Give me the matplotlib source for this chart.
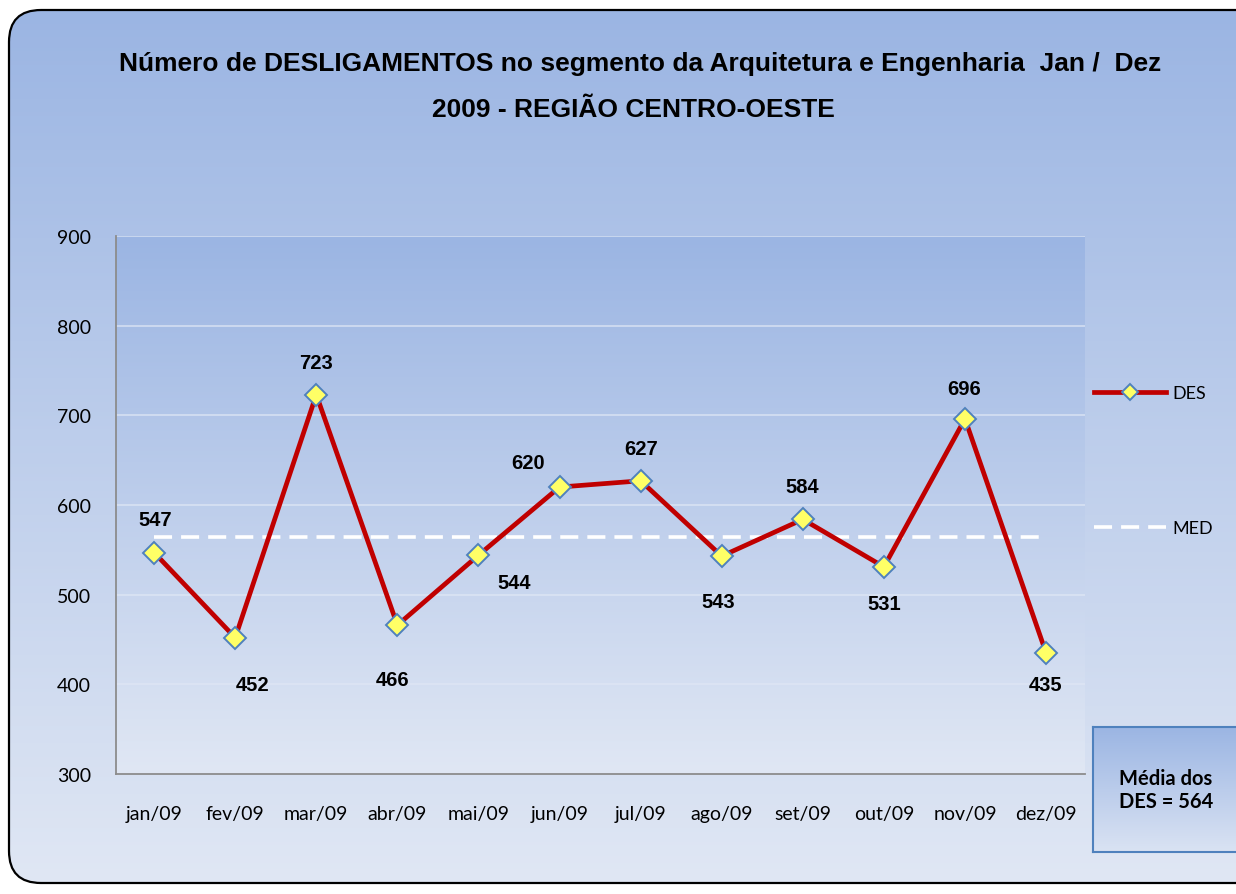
import numpy as np
import matplotlib
matplotlib.use('Agg')
import matplotlib.pyplot as plt
from matplotlib.patches import FancyBboxPatch

# dados
meses = ['jan/09', 'fev/09', 'mar/09', 'abr/09', 'mai/09', 'jun/09',
         'jul/09', 'ago/09', 'set/09', 'out/09', 'nov/09', 'dez/09']
des = [547, 452, 723, 466, 544, 620, 627, 543, 584, 531, 696, 435]
media = 564
med = [media] * len(meses)

W, H = 1236, 895
fig = plt.figure(figsize=(W / 100, H / 100), dpi=100)

top_c = np.array([0x9b, 0xb5, 0xe3]) / 255
bot_c = np.array([0xe0, 0xe7, 0xf4]) / 255
grad = np.linspace(0, 1, 256)[:, None, None]
grad_img = top_c * (1 - grad) + bot_c * grad

# fundo com cantos arredondados
bg = fig.add_axes([0, 0, 1, 1], zorder=-10)
bg.set_xlim(0, W)
bg.set_ylim(H, 0)
bg.axis('off')
box = FancyBboxPatch((9, 11), 1280, 873, boxstyle='round,pad=0,rounding_size=32',
                     facecolor='none', edgecolor='black', lw=1.6, zorder=3)
bg.add_patch(box)
im = bg.imshow(grad_img, extent=(9, 1289, 884, 11), aspect='auto', zorder=1)
im.set_clip_path(box)

# titulo
fig.text(640 / W, 1 - 64 / H,
         'Número de DESLIGAMENTOS no segmento da Arquitetura e Engenharia  Jan /  Dez',
         ha='center', va='center', fontsize=19, fontweight='bold',
         family='Liberation Sans')
fig.text(633 / W, 1 - 110 / H, '2009 - REGIÃO CENTRO-OESTE',
         ha='center', va='center', fontsize=19, fontweight='bold',
         family='Liberation Sans')

ax = fig.add_axes([116 / W, 1 - 775 / H, (1085 - 116) / W, (775 - 237) / H])
ax.imshow(grad_img, extent=(0, 1, 0, 1), transform=ax.transAxes, aspect='auto', zorder=0)
x = np.arange(len(meses))
ax.set_xlim(-0.47, 11.48)
ax.set_ylim(300, 900)
ax.set_yticks(range(300, 901, 100))
ax.set_xticks(x)
ax.set_xticklabels(meses)
for t in ax.get_xticklabels() + ax.get_yticklabels():
    t.set_family('Lato')
    t.set_fontsize(14)
ax.tick_params(length=0)
ax.tick_params(axis='x', pad=22)
ax.tick_params(axis='y', pad=18)
ax.grid(axis='y', color='#dfe7f5', lw=1.2, alpha=0.8)
ax.set_axisbelow(True)
for s in ['top', 'right']:
    ax.spines[s].set_visible(False)
ax.spines['left'].set_color('#8c8c8c')
ax.spines['bottom'].set_color('#8c8c8c')
ax.spines['left'].set_linewidth(1.3)
ax.spines['bottom'].set_linewidth(1.3)

l_med, = ax.plot(x, med, color='white', lw=2.6, ls=(0, (5, 2.5)), label='MED', zorder=3)
l_des, = ax.plot(x, des, color='#c00000', lw=3.4, marker='D', markersize=11,
                 markerfacecolor='#ffff66', markeredgecolor='#4f81bd',
                 markeredgewidth=1.4, label='DES', zorder=4)

# deslocamento dos rotulos (pixels)
offs = [(1, 33), (17, -47), (0, 32), (-5, -54), (36, -27), (-31, 25),
        (0, 32), (-4, -45), (-1, 33), (0, -37), (-1, 30), (-1, -32)]
for xi, v, (dx, dy) in zip(x, des, offs):
    ax.annotate(str(v), (xi, v), xytext=(dx, dy), textcoords='offset pixels',
                ha='center', va='center', fontsize=14.5, fontweight='bold',
                family='Liberation Sans')

leg = fig.legend([l_des, l_med], ['DES', 'MED'], loc='upper left',
                 bbox_to_anchor=(1078 / W, 1 - 370 / H), frameon=False,
                 handlelength=4.0, handletextpad=0.3, labelspacing=6.6,
                 prop={'family': 'Lato', 'size': 13})
leg.legend_handles[0].set_markersize(8)

# caixa da media
bx = fig.add_axes([1093 / W, 1 - 853 / H, 160 / W, (853 - 728) / H])
bx.imshow(top_c * (1 - grad) + np.array([0xda, 0xe3, 0xf3]) / 255 * grad,
          extent=(0, 1, 0, 1), aspect='auto')
bx.set_xlim(0, 1)
bx.set_ylim(0, 1)
bx.set_xticks([])
bx.set_yticks([])
for s in bx.spines.values():
    s.set_color('#4f81bd')
    s.set_linewidth(1.5)
bx.text(73 / 160, 0.5, 'Média dos\nDES = %d' % media, ha='center', va='center',
        fontsize=14.5, fontweight='bold', family='Lato', linespacing=1.2)

fig.savefig('out.png', dpi=100)
